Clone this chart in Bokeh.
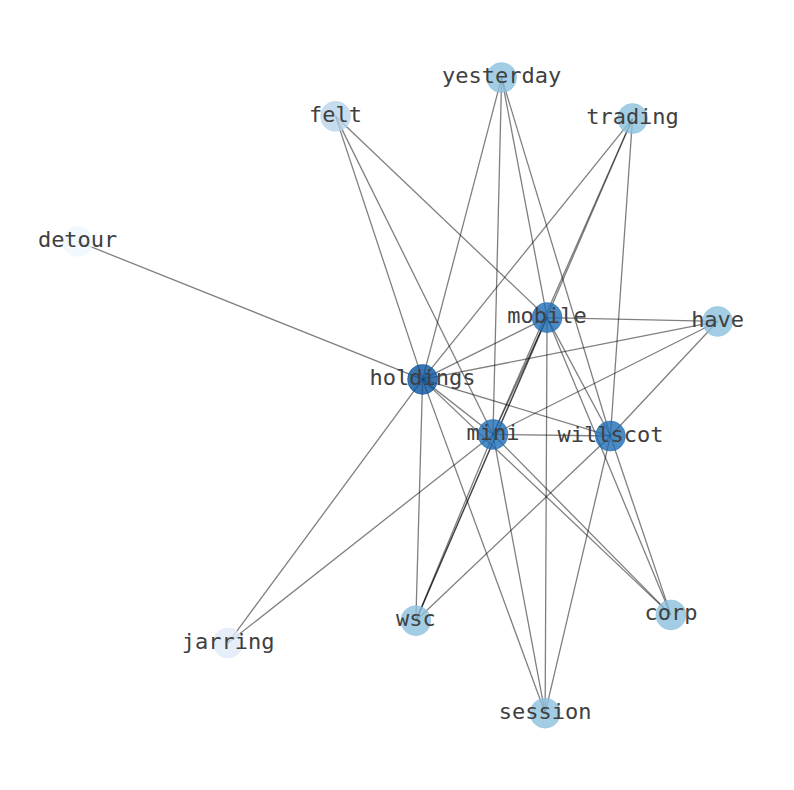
from bokeh.plotting import figure
from bokeh.models import Range1d, ColumnDataSource
from bokeh.core.properties import value
from bokeh.embed import file_html
from bokeh.resources import INLINE

# ---- data: network layout (layout units) ----
node_names = ["yesterday", "felt", "trading", "detour", "mobile", "have", "holdings",
              "mini", "willscot", "wsc", "corp", "jarring", "session"]
node_x = [0.316, -0.203, 0.725, -1.009, 0.458, 0.991, 0.069,
          0.289, 0.656, 0.048, 0.845, -0.539, 0.452]
node_y = [1.009, 0.888, 0.881, 0.497, 0.259, 0.247, 0.066,
          -0.106, -0.111, -0.688, -0.670, -0.758, -0.977]
node_colors = ["#8cc0de", "#b9d4eb", "#8cc0de", "#eff7fe", "#1f6db4", "#8cc0de", "#08539e",
               "#1f6db4", "#1f6db4", "#8cc0de", "#8cc0de", "#e0ebf7", "#8cc0de"]

edge_source = ["detour", "felt", "felt", "felt",
               "yesterday", "yesterday", "yesterday", "yesterday",
               "trading", "trading", "trading", "trading",
               "have", "have", "have", "have",
               "holdings", "holdings", "holdings", "holdings", "holdings", "holdings", "holdings",
               "mini", "mini", "mini", "mini", "mini", "mini",
               "mobile", "mobile", "mobile", "mobile",
               "willscot", "willscot", "willscot"]
edge_target = ["holdings", "holdings", "mini", "mobile",
               "holdings", "mini", "mobile", "willscot",
               "holdings", "mini", "wsc", "willscot",
               "mobile", "holdings", "mini", "willscot",
               "mobile", "mini", "willscot", "wsc", "jarring", "session", "corp",
               "willscot", "jarring", "session", "corp", "mobile", "wsc",
               "willscot", "session", "corp", "wsc",
               "wsc", "session", "corp"]

pos = {n: (x, y) for n, x, y in zip(node_names, node_x, node_y)}

p = figure(width=778, height=774, output_backend="svg", toolbar_location=None,
           x_range=Range1d(-1.25, 1.18125), y_range=Range1d(-1.16875, 1.25),
           min_border=0, outline_line_color=None, background_fill_color="white",
           border_fill_color="white")
p.axis.visible = False
p.grid.visible = False

edges = ColumnDataSource(dict(
    x0=[pos[s][0] for s in edge_source], y0=[pos[s][1] for s in edge_source],
    x1=[pos[t][0] for t in edge_target], y1=[pos[t][1] for t in edge_target]))
p.segment(x0="x0", y0="y0", x1="x1", y1="y1", source=edges,
          line_color="black", line_alpha=0.5, line_width=1.3)

nodes = ColumnDataSource(dict(x=node_x, y=node_y, c=node_colors, name=node_names))
p.scatter(x="x", y="y", source=nodes, marker="circle", size=30,
          fill_color="c", fill_alpha=0.8, line_color="c", line_alpha=0.5, line_width=1)

p.text(x="x", y="y", text="name", source=nodes, text_font=value("DejaVu Sans Mono"),
       text_font_size="22px", text_align="center", text_baseline="middle",
       text_color="#404040", y_offset=-2)

open("out.html", "w").write(file_html(p, INLINE))
